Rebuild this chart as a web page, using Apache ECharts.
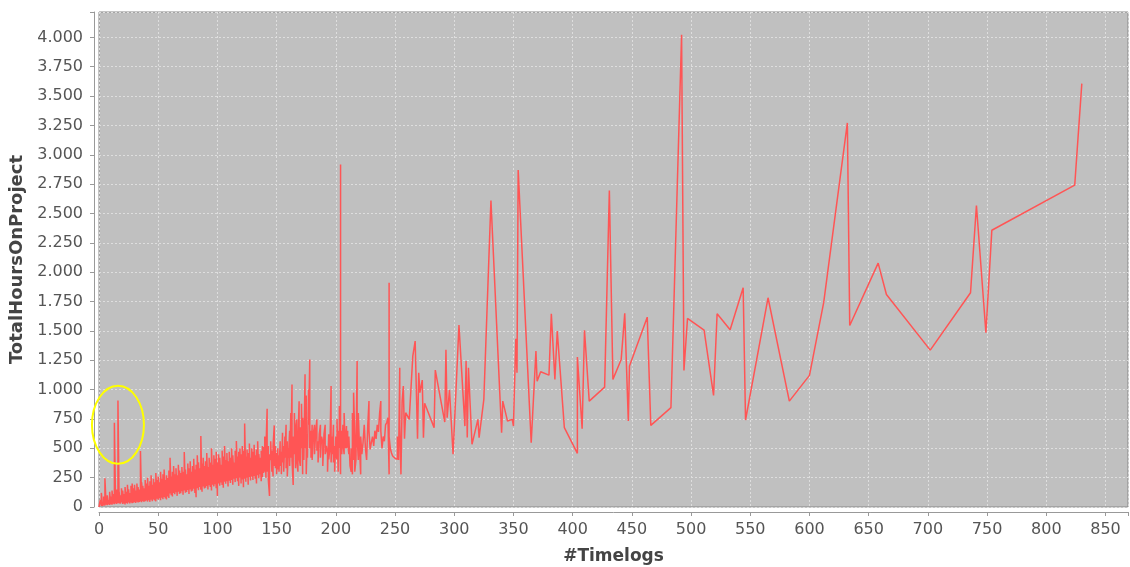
<!DOCTYPE html>
<html>
<head>
<meta charset="utf-8">
<title>TotalHoursOnProject</title>
<style>
html, body { margin: 0; padding: 0; background: #fff; }
#main { width: 1130px; height: 567px; }
</style>
<script src="https://cdn.jsdelivr.net/npm/echarts@6/dist/echarts.min.js"></script>
</head>
<body>
<div id="main"></div>
<script>
// crowded start: lowest / highest total hours seen for 0..139 timelogs
var denseLow = [
  0, 5, 10, 8, 15, 12, 20, 15, 22, 18,
  25, 20, 28, 24, 30, 26, 35, 30, 28, 40,
  25, 30, 22, 35, 28, 38, 30, 40, 32, 36,
  40, 34, 45, 38, 42, 48, 40, 52, 44, 50,
  55, 46, 58, 44, 62, 50, 65, 56, 48, 70,
  62, 75, 58, 80, 66, 85, 72, 64, 90, 76,
  115, 100, 90, 120, 108, 125, 95, 130, 112, 118,
  135, 105, 140, 122, 128, 145, 110, 150, 132, 138,
  155, 120, 83, 160, 142, 170, 148, 130, 175, 158,
  165, 180, 150, 185, 170, 140, 190, 176, 195, 160,
  94, 200, 182, 210, 188, 165, 215, 198, 220, 175,
  225, 205, 230, 190, 240, 212, 245, 220, 180, 250,
  200, 235, 168, 240, 215, 250, 190, 255, 225, 260,
  230, 265, 240, 200, 270, 245, 280, 220, 255, 290
];
var denseHigh = [
  10, 60, 120, 40, 90, 244, 70, 100, 60, 130,
  90, 140, 110, 718, 120, 150, 908, 130, 100, 160,
  140, 110, 170, 130, 190, 150, 120, 180, 200, 160,
  190, 140, 200, 170, 150, 477, 210, 180, 160, 230,
  200, 250, 180, 220, 270, 190, 240, 210, 290, 230,
  260, 210, 300, 240, 280, 320, 230, 270, 250, 310,
  420, 260, 300, 350, 280, 330, 270, 360, 310, 290,
  340, 300, 468, 320, 280, 370, 330, 390, 300, 350,
  410, 320, 360, 440, 380, 330, 604, 370, 420, 350,
  390, 460, 340, 420, 380, 500, 360, 440, 410, 470,
  380, 450, 420, 360, 480, 430, 520, 400, 460, 390,
  470, 420, 500, 440, 380, 480, 562, 430, 470, 500,
  450, 520, 480, 712, 430, 490, 460, 540, 420, 500,
  470, 530, 440, 490, 560, 450, 420, 480, 520, 510
];
// [timelogs, hours] from 140 timelogs on
var tailPoints = [
  [140,300],[140,600],[141,250],[141,500],[142,837],[142,300],[143,520],[143,230],[144,94],[144,450],
  [145,400],[145,560],[146,300],[146,480],[147,260],[147,520],[148,695],[148,350],[149,520],[149,330],
  [150,460],[150,280],[151,500],[151,320],[152,440],[152,300],[153,560],[153,350],[154,470],[154,280],
  [155,633],[155,380],[156,520],[156,300],[157,600],[157,420],[158,700],[158,330],[159,560],[159,260],
  [160,500],[160,420],[161,650],[161,350],[162,800],[162,420],[163,1044],[163,400],[164,187],[164,600],
  [165,450],[165,800],[166,330],[166,650],[167,746],[167,400],[168,300],[168,550],[169,900],[169,420],
  [170,350],[170,680],[171,500],[171,880],[172,280],[172,760],[173,600],[173,400],[174,1130],[174,500],
  [175,950],[175,280],[176,620],[176,420],[177,1000],[177,700],[178,1257],[178,500],[179,650],[179,420],
  [180,700],[180,400],[181,620],[182,700],[182,450],[183,640],[184,746],[184,480],[185,560],[185,380],
  [186,620],[187,700],[187,420],[188,600],[189,548],[189,350],[190,620],[191,700],[191,450],[192,520],
  [193,450],[193,300],[194,620],[194,406],[195,500],[196,1030],[196,380],[197,600],[197,450],[198,700],
  [198,380],[199,520],[199,300],[200,600],[200,450],[201,406],[201,750],[202,300],[202,650],[203,500],
  [203,860],[204,278],[204,2917],[204,600],[205,650],[205,450],[206,700],[206,550],[207,450],[207,800],
  [208,500],[209,689],[209,500],[210,650],[210,550],[211,450],[211,600],[212,350],[213,300],[213,500],
  [214,278],[214,800],[215,400],[215,974],[216,600],[216,300],[217,400],[218,1243],[218,600],[219,400],
  [219,800],[220,500],[221,278],[221,600],[222,450],[223,550],[224,700],[225,500],[226,400],[227,700],
  [228,902],[228,650],[229,491],[230,550],[231,600],[232,520],[233,650],[234,580],[235,700],[236,640],
  [237,800],[238,902],[238,650],[239,500],[240,600],[241,560],[242,700],[243,720],[244,761],[245,278],
  [245,1910],[245,600],[246,500],[247,460],[248,434],[249,420],[250,415],[251,410],[252,406],[252,600],
  [253,400],[254,1186],[254,700],[255,278],[256,900],[257,1030],[258,582],[259,803],[262,746],[265,1285],
  [267,1413],[269,582],[270,1144],[271,974],[273,1081],[274,591],[275,883],[283,676],[284,1166],[292,723],
  [293,1340],[294,761],[296,996],[299,449],[304,1549],[309,689],[310,1243],[311,591],[312,1186],[315,534],
  [320,746],[321,591],[325,917],[331,2610],[340,633],[341,902],[345,732],[349,746],[350,689],[352,1433],
  [353,1144],[354,2870],[365,548],[369,1328],[370,1072],[373,1152],[380,1123],[382,1646],[385,1087],[387,1498],
  [393,676],[404,457],[404,1277],[408,667],[410,1506],[414,902],[427,1021],[431,2695],[434,1087],[441,1257],
  [444,1649],[447,732],[448,1200],[463,1617],[466,695],[483,846],[492,4023],[494,1163],[497,1606],[511,1506],
  [519,951],[522,1646],[533,1510],[544,1867],[546,741],[565,1782],[583,902],[600,1121],[612,1740],[632,3271],
  [634,1546],[658,2077],[665,1810],[702,1336],[736,1825],[741,2568],[749,1484],[754,2357],[824,2741],[830,3606]
];
// the circled outlier near the start
var circledPoint = [16, 700];

var X_STEP = 50, Y_STEP = 250;

function thousands(v) {
  if (v >= 1000) {
    var r = v % 1000;
    return Math.floor(v / 1000) + '.' + ('00' + r).slice(-3);
  }
  return '' + v;
}

var data = [];
for (var i = 0; i < denseLow.length; i++) {
  data.push([i, denseLow[i]]);
  data.push([i, denseHigh[i]]);
}
tailPoints.forEach(function (p) { data.push(p); });

var labelFont = 'DejaVu Sans';
var myChart = echarts.init(document.getElementById('main'));
var option = {
  animation: false,
  grid: {
    left: 99, right: 2, top: 12, bottom: 60,
    show: true,
    backgroundColor: '#c0c0c0',
    borderColor: '#888',
    borderWidth: 1,
    outerBoundsMode: 'none'
  },
  xAxis: {
    type: 'value',
    min: 0, max: 869, interval: X_STEP,
    offset: 5,
    name: '#Timelogs',
    nameLocation: 'middle',
    nameGap: 36,
    nameTextStyle: { fontFamily: labelFont, fontSize: 17, fontWeight: 'bold', color: '#444' },
    axisLine: { show: true, onZero: false, lineStyle: { color: '#999', width: 1 } },
    axisTick: { show: true, length: 4, lineStyle: { color: '#999' } },
    axisLabel: {
      margin: 10, fontSize: 16, color: '#555', fontFamily: labelFont,
      formatter: function (v) { return v % X_STEP === 0 ? thousands(v) : ''; }
    },
    splitLine: { show: true, lineStyle: { color: '#dedede', type: [2, 2], width: 1 } }
  },
  yAxis: {
    type: 'value',
    min: 0, max: 4216, interval: Y_STEP,
    offset: 5,
    name: 'TotalHoursOnProject',
    nameLocation: 'middle',
    nameRotate: 90,
    nameGap: 66,
    nameTextStyle: { fontFamily: labelFont, fontSize: 18, fontWeight: 'bold', color: '#444' },
    axisLine: { show: true, onZero: false, lineStyle: { color: '#999', width: 1 } },
    axisTick: { show: true, length: 4, lineStyle: { color: '#999' } },
    axisLabel: {
      margin: 11, fontSize: 16, color: '#555', fontFamily: labelFont,
      formatter: function (v) { return v % Y_STEP === 0 ? thousands(v) : ''; }
    },
    splitLine: { show: true, lineStyle: { color: '#dedede', type: [2, 2], width: 1 } }
  },
  series: [{
    type: 'line',
    data: data,
    showSymbol: false,
    symbol: 'none',
    sampling: null,
    lineStyle: { color: '#ff5555', width: 1.5 },
    emphasis: { disabled: true }
  }]
};
myChart.setOption(option);

// yellow ring round the early outlier
var c = myChart.convertToPixel({ gridIndex: 0 }, circledPoint);
myChart.setOption({
  graphic: [{
    type: 'ellipse',
    shape: { cx: c[0], cy: c[1], rx: 26, ry: 39 },
    style: { fill: 'none', stroke: '#ffff00', lineWidth: 2 },
    z: 100
  }]
});
</script>
</body>
</html>
